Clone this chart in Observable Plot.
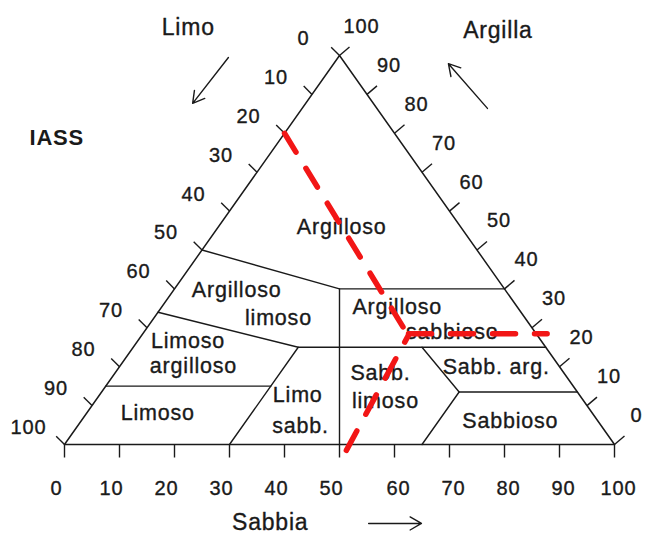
<!DOCTYPE html>
<html>
<head>
<meta charset="utf-8">
<script src="https://cdn.jsdelivr.net/npm/d3@7"></script>
<script src="https://cdn.jsdelivr.net/npm/@observablehq/plot@0.6"></script>
<style>
  html, body { margin: 0; padding: 0; background: #fff; }
  #chart svg text { letter-spacing: 0.8px; }
</style>
</head>
<body>
<div id="chart"></div>
<script>
// ---- data (ternary: [sand %, clay %], silt = 100 - sand - clay) ----
const ticks = [0, 10, 20, 30, 40, 50, 60, 70, 80, 90, 100];
const tickLabels = ticks.map(String);

const outline = [[0, 0], [100, 0], [0, 100], [0, 0]];
const lineArgilloso = [[0, 50], [30, 40], [60, 40]];
const lineArgSabbLeft = [[30, 40], [50, 0]];
const lineArgLimoso = [[0, 34], [30, 25], [75, 25]];
const lineLimoSabb = [[30, 25], [30, 0]];
const lineLimoso = [[0, 15], [30, 15]];
const lineSabbArg = [[52.5, 25], [65, 13.5], [86.5, 13.5]];
const lineSabbioso = [[65, 13.5], [65, 0]];

const regionText = ["Argilloso", "Argilloso", "limoso", "Limoso", "argilloso", "Limoso",
  "Limo", "sabb.", "Argilloso", "sabbioso", "Sabb.", "limoso", "Sabb. arg.", "Sabbioso"];
const regionSand = [22.5, 11.5, 22.6, 9.1, 13.4, 12.9, 36.1, 40.6, 42.9, 56, 48.3, 52.8, 68.6, 78.1];
const regionClay = [55.8, 39.6, 32.6, 26.7, 20.1, 8.1, 12.6, 4.6, 35.2, 29, 18.3, 11.1, 19.8, 5.9];

const redSiltLine = [[0, 80], [48.5, 28]];
const redClayLine = [[48.3, 28.5], [73.5, 28.5]];
const redSandLine = [[52, -1.5], [48.5, 28]];

const axisNames = ["Limo", "Argilla", "Sabbia"];
const axisNameX = [22.5, 78.8, 37.4];
const axisNameY = [107.2, 106.3, -20.2];
const axisArrows = [
  {x1: 29.8, y1: 99.5, x2: 23.3, y2: 87.7},
  {x1: 76.9, y1: 86.4, x2: 69.8, y2: 97.9},
  {x1: 55.3, y1: -20.3, x2: 64.9, y2: -20.3}
];

// ---- layout ----
const W = 649, H = 534, mL = 64, mR = 35, mT = 55, mB = 90;
const PX = (W - mL - mR) / 100, PY = (H - mT - mB) / 100; // px per unit
const tx = (d) => d[0] + d[1] / 2;
const ty = (d) => d[1];
const ink = "#1a1a1a";
const red = "#f21616";
const font = "'Liberation Sans', Arial, Helvetica, sans-serif";
const textInk = {fill: ink, stroke: ink, strokeWidth: 0.35};

const boundaryLines = [lineArgilloso, lineArgSabbLeft, lineArgLimoso, lineLimoSabb, lineLimoso, lineSabbArg, lineSabbioso];

const chart = Plot.plot({
  width: W, height: H,
  marginLeft: mL, marginRight: mR, marginTop: mT, marginBottom: mB,
  x: {domain: [0, 100], axis: null},
  y: {domain: [0, 100], axis: null},
  style: {fontFamily: font, background: "white", color: ink, overflow: "visible"},
  marks: [
    // triangle
    Plot.line(outline, {x: tx, y: ty, stroke: ink, strokeWidth: 1.5}),
    // class boundaries
    ...boundaryLines.map(b => Plot.line(b, {x: tx, y: ty, stroke: ink, strokeWidth: 1.4})),
    // sand ticks (base)
    Plot.link(ticks, {x1: d => d, y1: d => 0, x2: d => d, y2: d => -13 / PY, stroke: ink, strokeWidth: 1.4}),
    // silt ticks (left side)
    Plot.link(ticks, {
      x1: d => (100 - d) / 2, y1: d => 100 - d,
      x2: d => (100 - d) / 2 - 8.3 / PX, y2: d => 100 - d + 8.3 / PY,
      stroke: ink, strokeWidth: 1.4
    }),
    // clay ticks (right side)
    Plot.link(ticks, {
      x1: d => 100 - d / 2, y1: d => d,
      x2: d => 100 - d / 2 + 10 / PX, y2: d => d + 8.5 / PY,
      stroke: ink, strokeWidth: 1.4
    }),
    // tick labels
    Plot.text(ticks.filter(d => d <= 50), {x: d => d, y: d => 0, text: d => tickLabels[ticks.indexOf(d)], dy: 44, dx: -8, fontSize: 20, ...textInk}),
    Plot.text(ticks.filter(d => d > 50), {x: d => d, y: d => 0, text: d => tickLabels[ticks.indexOf(d)], dy: 44, dx: 4, fontSize: 20, ...textInk}),
    Plot.text(ticks, {x: d => (100 - d) / 2, y: d => 100 - d, text: d => tickLabels[ticks.indexOf(d)], dx: -36, dy: -17, fontSize: 20, ...textInk}),
    Plot.text(ticks, {x: d => 100 - d / 2, y: d => d, text: d => tickLabels[ticks.indexOf(d)], dx: 22, dy: -29, fontSize: 20, ...textInk}),
    // region labels
    Plot.text(regionText, {
      x: (d, i) => regionSand[i] + regionClay[i] / 2, y: (d, i) => regionClay[i],
      text: d => d, fontSize: 21.5, ...textInk
    }),
    // axis names and arrows
    Plot.text(axisNames, {x: (d, i) => axisNameX[i], y: (d, i) => axisNameY[i], text: d => d, fontSize: 23, ...textInk}),
    Plot.text(["IASS"], {x: d => -1.4, y: d => 78.8, text: d => d, fontSize: 22, fontWeight: "bold", fill: ink}),
    Plot.arrow(axisArrows, {x1: "x1", y1: "y1", x2: "x2", y2: "y2", stroke: ink, strokeWidth: 1.4, headLength: 14}),
    // red dashed overlay
    Plot.line(redSiltLine, {x: tx, y: ty, stroke: red, strokeWidth: 5.5, strokeDasharray: "22,19"}),
    Plot.line(redClayLine, {x: tx, y: ty, stroke: red, strokeWidth: 5.5, strokeDasharray: "23,19"}),
    Plot.line(redSandLine, {x: tx, y: ty, stroke: red, strokeWidth: 5.5, strokeDasharray: "22,19"})
  ]
});
document.getElementById("chart").appendChild(chart);
</script>
</body>
</html>
